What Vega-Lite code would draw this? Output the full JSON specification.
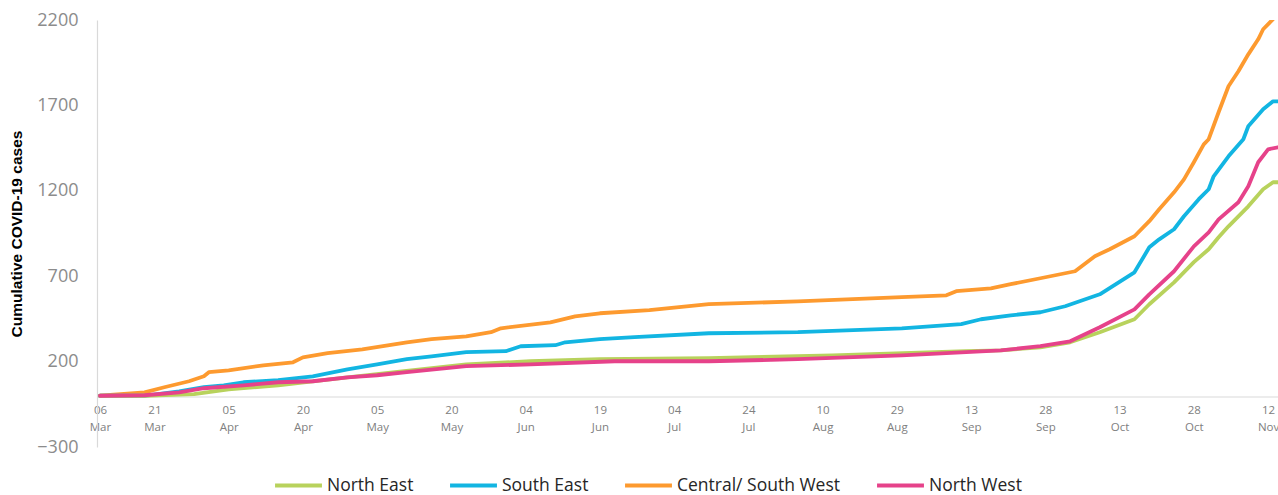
{
  "$schema": "https://vega.github.io/schema/vega-lite/v6.json",
  "width": 1181,
  "height": 427,
  "autosize": "none",
  "padding": {"left": 97, "top": 20, "right": 0, "bottom": 48},
  "background": "white",
  "config": {"view": {"stroke": null}},
  "data": {"values": [
    {"region":"Central/ South West","day":0,"cases":0},
    {"region":"Central/ South West","day":9,"cases":20},
    {"region":"Central/ South West","day":13,"cases":50},
    {"region":"Central/ South West","day":18,"cases":85},
    {"region":"Central/ South West","day":21,"cases":114},
    {"region":"Central/ South West","day":22,"cases":138},
    {"region":"Central/ South West","day":26,"cases":149},
    {"region":"Central/ South West","day":33,"cases":178},
    {"region":"Central/ South West","day":39,"cases":196},
    {"region":"Central/ South West","day":41,"cases":225},
    {"region":"Central/ South West","day":46,"cases":249},
    {"region":"Central/ South West","day":53,"cases":272},
    {"region":"Central/ South West","day":62,"cases":313},
    {"region":"Central/ South West","day":67,"cases":331},
    {"region":"Central/ South West","day":74,"cases":348},
    {"region":"Central/ South West","day":79,"cases":372},
    {"region":"Central/ South West","day":81,"cases":395},
    {"region":"Central/ South West","day":91,"cases":430},
    {"region":"Central/ South West","day":96,"cases":465},
    {"region":"Central/ South West","day":101,"cases":483},
    {"region":"Central/ South West","day":111,"cases":501},
    {"region":"Central/ South West","day":123,"cases":536},
    {"region":"Central/ South West","day":141,"cases":553},
    {"region":"Central/ South West","day":162,"cases":577},
    {"region":"Central/ South West","day":171,"cases":588},
    {"region":"Central/ South West","day":173,"cases":612},
    {"region":"Central/ South West","day":180,"cases":629},
    {"region":"Central/ South West","day":184,"cases":653},
    {"region":"Central/ South West","day":190,"cases":688},
    {"region":"Central/ South West","day":197,"cases":729},
    {"region":"Central/ South West","day":201,"cases":817},
    {"region":"Central/ South West","day":204,"cases":858},
    {"region":"Central/ South West","day":209,"cases":934},
    {"region":"Central/ South West","day":212,"cases":1022},
    {"region":"Central/ South West","day":214,"cases":1092},
    {"region":"Central/ South West","day":217,"cases":1191},
    {"region":"Central/ South West","day":219,"cases":1267},
    {"region":"Central/ South West","day":221,"cases":1367},
    {"region":"Central/ South West","day":223,"cases":1472},
    {"region":"Central/ South West","day":224,"cases":1502},
    {"region":"Central/ South West","day":226,"cases":1660},
    {"region":"Central/ South West","day":228,"cases":1812},
    {"region":"Central/ South West","day":230,"cases":1900},
    {"region":"Central/ South West","day":232,"cases":1999},
    {"region":"Central/ South West","day":234,"cases":2087},
    {"region":"Central/ South West","day":235,"cases":2146},
    {"region":"Central/ South West","day":237,"cases":2205},
    {"region":"Central/ South West","day":238,"cases":2240},

    {"region":"South East","day":0,"cases":0},
    {"region":"South East","day":9,"cases":0},
    {"region":"South East","day":16,"cases":26},
    {"region":"South East","day":21,"cases":50},
    {"region":"South East","day":25,"cases":61},
    {"region":"South East","day":29,"cases":79},
    {"region":"South East","day":36,"cases":91},
    {"region":"South East","day":43,"cases":114},
    {"region":"South East","day":50,"cases":155},
    {"region":"South East","day":56,"cases":184},
    {"region":"South East","day":62,"cases":214},
    {"region":"South East","day":67,"cases":231},
    {"region":"South East","day":74,"cases":255},
    {"region":"South East","day":82,"cases":261},
    {"region":"South East","day":85,"cases":290},
    {"region":"South East","day":92,"cases":296},
    {"region":"South East","day":94,"cases":313},
    {"region":"South East","day":101,"cases":331},
    {"region":"South East","day":108,"cases":343},
    {"region":"South East","day":123,"cases":366},
    {"region":"South East","day":141,"cases":372},
    {"region":"South East","day":162,"cases":395},
    {"region":"South East","day":174,"cases":419},
    {"region":"South East","day":178,"cases":448},
    {"region":"South East","day":184,"cases":471},
    {"region":"South East","day":190,"cases":489},
    {"region":"South East","day":195,"cases":524},
    {"region":"South East","day":202,"cases":594},
    {"region":"South East","day":209,"cases":723},
    {"region":"South East","day":212,"cases":869},
    {"region":"South East","day":214,"cases":916},
    {"region":"South East","day":217,"cases":975},
    {"region":"South East","day":219,"cases":1051},
    {"region":"South East","day":222,"cases":1151},
    {"region":"South East","day":224,"cases":1209},
    {"region":"South East","day":225,"cases":1285},
    {"region":"South East","day":228,"cases":1402},
    {"region":"South East","day":231,"cases":1502},
    {"region":"South East","day":232,"cases":1578},
    {"region":"South East","day":235,"cases":1677},
    {"region":"South East","day":237,"cases":1724},
    {"region":"South East","day":238,"cases":1724},

    {"region":"North East","day":0,"cases":0},
    {"region":"North East","day":9,"cases":0},
    {"region":"North East","day":19,"cases":9},
    {"region":"North East","day":26,"cases":38},
    {"region":"North East","day":36,"cases":61},
    {"region":"North East","day":50,"cases":108},
    {"region":"North East","day":61,"cases":143},
    {"region":"North East","day":74,"cases":184},
    {"region":"North East","day":87,"cases":202},
    {"region":"North East","day":101,"cases":214},
    {"region":"North East","day":123,"cases":220},
    {"region":"North East","day":148,"cases":237},
    {"region":"North East","day":175,"cases":261},
    {"region":"North East","day":182,"cases":266},
    {"region":"North East","day":190,"cases":284},
    {"region":"North East","day":196,"cases":313},
    {"region":"North East","day":202,"cases":372},
    {"region":"North East","day":209,"cases":448},
    {"region":"North East","day":212,"cases":536},
    {"region":"North East","day":217,"cases":664},
    {"region":"North East","day":221,"cases":782},
    {"region":"North East","day":224,"cases":858},
    {"region":"North East","day":226,"cases":928},
    {"region":"North East","day":228,"cases":992},
    {"region":"North East","day":232,"cases":1109},
    {"region":"North East","day":235,"cases":1209},
    {"region":"North East","day":237,"cases":1250},
    {"region":"North East","day":238,"cases":1250},

    {"region":"North West","day":0,"cases":0},
    {"region":"North West","day":9,"cases":3},
    {"region":"North West","day":16,"cases":20},
    {"region":"North West","day":21,"cases":44},
    {"region":"North West","day":29,"cases":61},
    {"region":"North West","day":36,"cases":79},
    {"region":"North West","day":43,"cases":85},
    {"region":"North West","day":50,"cases":108},
    {"region":"North West","day":56,"cases":120},
    {"region":"North West","day":62,"cases":138},
    {"region":"North West","day":74,"cases":173},
    {"region":"North West","day":87,"cases":184},
    {"region":"North West","day":104,"cases":202},
    {"region":"North West","day":123,"cases":202},
    {"region":"North West","day":141,"cases":214},
    {"region":"North West","day":162,"cases":237},
    {"region":"North West","day":182,"cases":266},
    {"region":"North West","day":190,"cases":290},
    {"region":"North West","day":196,"cases":319},
    {"region":"North West","day":202,"cases":401},
    {"region":"North West","day":209,"cases":506},
    {"region":"North West","day":212,"cases":594},
    {"region":"North West","day":217,"cases":729},
    {"region":"North West","day":221,"cases":875},
    {"region":"North West","day":224,"cases":957},
    {"region":"North West","day":226,"cases":1033},
    {"region":"North West","day":230,"cases":1133},
    {"region":"North West","day":232,"cases":1227},
    {"region":"North West","day":234,"cases":1367},
    {"region":"North West","day":236,"cases":1443},
    {"region":"North West","day":238,"cases":1455}
  ]},
  "mark": {"type": "line", "strokeWidth": 3.8, "clip": true, "strokeJoin": "round", "strokeCap": "round"},
  "encoding": {
    "x": {
      "field": "day",
      "type": "quantitative",
      "scale": {"domain": [-0.6, 238], "nice": false, "zero": false},
      "axis": {
        "title": null,
        "offset": -50.5,
        "values": [0, 11, 26, 41, 56, 71, 86, 101, 116, 131, 146, 161, 176, 191, 206, 221, 236],
        "labelExpr": "split(['06 Mar','21 Mar','05 Apr','20 Apr','05 May','20 May','04 Jun','19 Jun','04 Jul','24 Jul','10 Aug','29 Aug','13 Sep','28 Sep','13 Oct','28 Oct','12 Nov'][indexof([0,11,26,41,56,71,86,101,116,131,146,161,176,191,206,221,236], datum.value)], ' ')",
        "ticks": false,
        "grid": false,
        "domainColor": "#d9d9d9",
        "domainWidth": 1.2,
        "labelColor": "#808080",
        "labelFont": "Open Sans",
        "labelFontSize": 11.5,
        "labelLineHeight": 17,
        "labelPadding": 8,
        "labelFlush": false,
        "labelOverlap": false
      }
    },
    "y": {
      "field": "cases",
      "type": "quantitative",
      "scale": {"domain": [-300, 2200], "nice": false, "zero": false},
      "axis": {
        "title": "Cumulative COVID-19 cases",
        "titleFont": "Liberation Sans",
        "titleFontWeight": "bold",
        "titleFontSize": 15.5,
        "titleColor": "#000000",
        "titlePadding": 12,
        "values": [-300, 200, 700, 1200, 1700, 2200],
        "format": "d",
        "ticks": false,
        "grid": false,
        "domainColor": "#d9d9d9",
        "domainWidth": 1.2,
        "labelColor": "#8c8c8c",
        "labelFont": "Open Sans",
        "labelFontSize": 18,
        "labelPadding": 19
      }
    },
    "color": {
      "field": "region",
      "type": "nominal",
      "scale": {
        "domain": ["North East", "South East", "Central/ South West", "North West"],
        "range": ["#b8d25c", "#12b5e2", "#fd9a2f", "#e6428a"]
      },
      "legend": {
        "title": null,
        "orient": "none",
        "direction": "horizontal",
        "legendX": 176,
        "legendY": 440,
        "symbolType": "stroke",
        "symbolSize": 2200,
        "symbolStrokeWidth": 4,
        "labelFont": "Open Sans",
        "labelFontSize": 17.5,
        "labelLimit": 400,
        "labelColor": "#262626",
        "labelOffset": 3,
        "columnPadding": 28
      }
    }
  }
}
